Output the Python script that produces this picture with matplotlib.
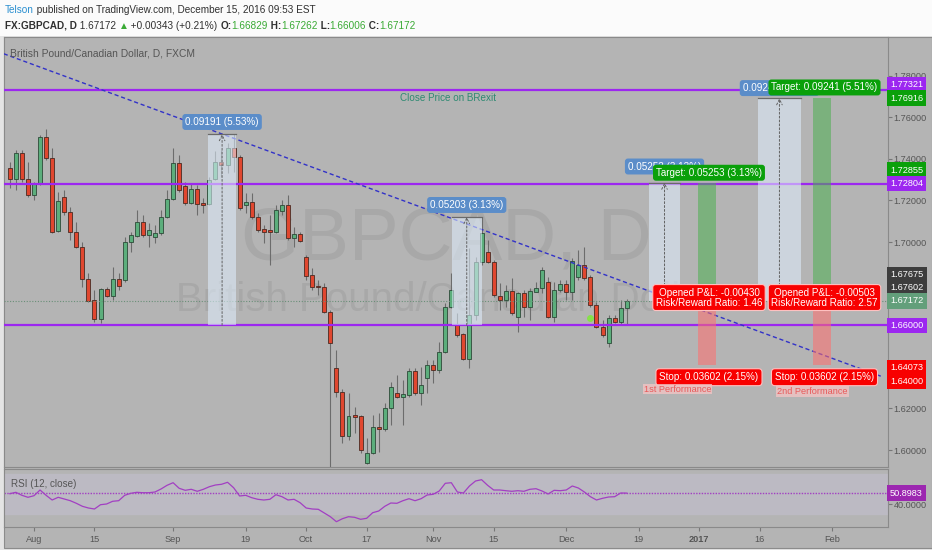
import matplotlib
matplotlib.use("Agg")
import numpy as np
import pandas as pd
import matplotlib.pyplot as plt
from matplotlib import font_manager
from matplotlib.patches import Rectangle

# ---- fonts: the screenshot text is narrow, use a narrow face if there is one
names = {f.name for f in font_manager.fontManager.ttflist}
NARROW = 'Liberation Sans Narrow' in names
FONT = 'Liberation Sans Narrow' if NARROW else 'Liberation Sans'
FS = 1.0 if NARROW else 0.84   # shrink plain Liberation Sans to keep the widths
plt.rcParams['font.family'] = [FONT, 'DejaVu Sans']

# ---- daily candles GBPCAD, 26 Jul 2016 .. 15 Dec 2016
opens = [1.7355, 1.7303, 1.7430, 1.7303, 1.7226, 1.7279, 1.7504, 1.7403, 1.7053, 1.7218,
         1.7143, 1.7050, 1.6974, 1.6822, 1.6721, 1.6630, 1.6772, 1.6742, 1.6821, 1.6817,
         1.6998, 1.7030, 1.7095, 1.7034, 1.7023, 1.7042, 1.7122, 1.7205, 1.7379, 1.7269,
         1.7189, 1.7253, 1.7186, 1.7183, 1.7303, 1.7383, 1.7370, 1.7454, 1.7407, 1.7176,
         1.7194, 1.7119, 1.7061, 1.7058, 1.7047, 1.7149, 1.7178, 1.7018, 1.7037, 1.6926,
         1.6841, 1.6788, 1.6785, 1.6662, 1.6392, 1.6277, 1.6067, 1.6166, 1.6163, 1.5936,
         1.5987, 1.6112, 1.6099, 1.6200, 1.6272, 1.6253, 1.6264, 1.6381, 1.6272, 1.6344,
         1.6408, 1.6384, 1.6469, 1.6686, 1.6601, 1.6558, 1.6436, 1.6649, 1.6905, 1.6953,
         1.6905, 1.6742, 1.6721, 1.6766, 1.6638, 1.6753, 1.6689, 1.6761, 1.6777, 1.6809,
         1.6641, 1.6769, 1.6798, 1.6761, 1.6830, 1.6889, 1.6830, 1.6697, 1.6593, 1.6513,
         1.6633, 1.6617, 1.66829]
highs = [1.7386, 1.7443, 1.7443, 1.7386, 1.7290, 1.7515, 1.7542, 1.7451, 1.7242, 1.7250,
         1.7170, 1.7098, 1.7002, 1.6852, 1.6769, 1.6777, 1.6785, 1.6881, 1.6852, 1.7025,
         1.7050, 1.7154, 1.7130, 1.7090, 1.7082, 1.7154, 1.7250, 1.7451, 1.7418, 1.7290,
         1.7282, 1.7274, 1.7210, 1.7314, 1.7439, 1.7443, 1.7475, 1.7519, 1.7418, 1.7237,
         1.7234, 1.7141, 1.7082, 1.7130, 1.7178, 1.7202, 1.7226, 1.7074, 1.7050, 1.6937,
         1.6873, 1.6817, 1.6801, 1.6673, 1.6480, 1.6291, 1.6272, 1.6208, 1.6166, 1.6056,
         1.6166, 1.6176, 1.6224, 1.6328, 1.6360, 1.6336, 1.6392, 1.6392, 1.6400, 1.6432,
         1.6432, 1.6520, 1.6708, 1.6849, 1.6657, 1.6563, 1.6970, 1.6929, 1.7120, 1.7010,
         1.6913, 1.6801, 1.6793, 1.6825, 1.6761, 1.6769, 1.6777, 1.6809, 1.6881, 1.6833,
         1.6809, 1.6817, 1.6817, 1.6922, 1.6962, 1.6977, 1.6841, 1.6713, 1.6625, 1.6649,
         1.6649, 1.6721, 1.67262]
lows = [1.7258, 1.7250, 1.7290, 1.7218, 1.7202, 1.7274, 1.7394, 1.7042, 1.7050, 1.7130,
        1.7010, 1.6970, 1.6785, 1.6713, 1.6617, 1.6609, 1.6737, 1.6721, 1.6769, 1.6809,
        1.6953, 1.7023, 1.7025, 1.6977, 1.6994, 1.7034, 1.7114, 1.7202, 1.7242, 1.7178,
        1.7183, 1.7130, 1.7138, 1.7178, 1.7298, 1.7314, 1.7330, 1.7338, 1.7154, 1.7138,
        1.7109, 1.7050, 1.6994, 1.6889, 1.7042, 1.7130, 1.7010, 1.6977, 1.7002, 1.6817,
        1.6769, 1.6745, 1.6657, 1.5750, 1.6256, 1.6032, 1.6048, 1.6080, 1.5984, 1.5932,
        1.5980, 1.5991, 1.6092, 1.6120, 1.6248, 1.6120, 1.6256, 1.6264, 1.6216, 1.6272,
        1.6320, 1.6368, 1.6465, 1.6681, 1.6545, 1.6432, 1.6392, 1.6625, 1.6889, 1.6898,
        1.6737, 1.6673, 1.6689, 1.6649, 1.6569, 1.6641, 1.6625, 1.6761, 1.6753, 1.6633,
        1.6617, 1.6761, 1.6721, 1.6721, 1.6817, 1.6817, 1.6689, 1.6585, 1.6545, 1.6497,
        1.6609, 1.6601, 1.66006]
closes = [1.7303, 1.7430, 1.7303, 1.7226, 1.7279, 1.7504, 1.7403, 1.7050, 1.7199, 1.7143,
          1.7050, 1.6974, 1.6822, 1.6716, 1.6630, 1.6772, 1.6742, 1.6821, 1.6790, 1.6998,
          1.7034, 1.7095, 1.7034, 1.7058, 1.7042, 1.7122, 1.7205, 1.7379, 1.7250, 1.7189,
          1.7253, 1.7181, 1.7179, 1.7298, 1.7383, 1.7370, 1.7454, 1.7407, 1.7162, 1.7194,
          1.7119, 1.7058, 1.7047, 1.7047, 1.7154, 1.7178, 1.7018, 1.7037, 1.7005, 1.6838,
          1.6782, 1.6782, 1.6662, 1.6516, 1.6277, 1.6067, 1.6163, 1.6160, 1.6000, 1.5987,
          1.6109, 1.6099, 1.6203, 1.6304, 1.6253, 1.6267, 1.6381, 1.6272, 1.6312, 1.6408,
          1.6384, 1.6469, 1.6686, 1.6769, 1.6553, 1.6436, 1.6649, 1.6905, 1.7042, 1.6905,
          1.6745, 1.6721, 1.6766, 1.6657, 1.6753, 1.6689, 1.6766, 1.6777, 1.6865, 1.6641,
          1.6769, 1.6798, 1.6761, 1.6909, 1.6889, 1.6825, 1.6697, 1.6593, 1.6553, 1.6633,
          1.6617, 1.6681, 1.67172]

# RSI(12, close) for the same days
rsi = [50.3, 51.7, 48.7, 46.7, 48.3, 54.0, 48.7, 44.0, 46.7, 45.0,
       43.3, 40.7, 37.7, 36.0, 35.0, 39.3, 40.0, 42.7, 43.3, 48.7,
       50.7, 51.7, 51.3, 51.3, 52.0, 55.0, 58.7, 61.3, 55.7, 53.7,
       54.7, 52.7, 54.7, 57.3, 59.0, 59.7, 61.7, 56.3, 48.0, 48.7,
       46.3, 44.7, 44.0, 44.7, 49.3, 47.3, 44.0, 44.7, 41.3, 36.0,
       35.0, 34.7, 31.0, 27.3, 22.3, 25.3, 27.3, 26.7, 24.7, 25.7,
       31.3, 33.0, 37.7, 41.0, 40.7, 43.3, 45.3, 43.3, 45.3, 49.0,
       49.7, 53.0, 60.7, 61.3, 52.0, 51.0, 58.0, 63.0, 64.3, 58.7,
       54.0, 54.0, 53.3, 52.7, 53.3, 52.7, 54.7, 55.3, 53.0, 50.0,
       53.7, 53.3, 54.0, 58.0, 56.0, 52.0, 47.3, 44.0, 45.7, 47.0,
       47.3, 51.0, 50.8983]

tick_dates = ['2016-08-01', '2016-08-15', '2016-09-01', '2016-09-19', '2016-10-03',
              '2016-10-17', '2016-11-01', '2016-11-15', '2016-12-01', '2016-12-19',
              '2017-01-02', '2017-01-16', '2017-02-01']
tick_labels = ['Aug', '15', 'Sep', '19', 'Oct', '17', 'Nov', '15', 'Dec', '19',
               '2017', '16', 'Feb']

# horizontal levels drawn on the chart
levels = [1.77321, 1.72804, 1.66000]
last_price = 1.67172
trend_pts = [('2016-07-25', 1.7905), ('2017-02-13', 1.6355)]

# measure tool boxes
measure_lo = [1.66, 1.66]
measure_hi = [1.7519, 1.7120]
measure_txt = ['0.09191 (5.53%)', '0.05203 (3.13%)']

# long position tools
pos_target = [1.72855, 1.76916]
pos_entry = [1.67602, 1.67602]
pos_stop = [1.64073, 1.64073]
pos_blue_txt = ['0.05253 (3.13%)', '0.09241 (5.51%)']
pos_target_txt = ['Target: 0.05253 (3.13%)', 'Target: 0.09241 (5.51%)']
pos_pnl_txt = ['Opened P&L: -0.00430\nRisk/Reward Ratio: 1.46',
               'Opened P&L: -0.00503\nRisk/Reward Ratio: 2.57']
pos_stop_txt = ['Stop: 0.03602 (2.15%)', 'Stop: 0.03602 (2.15%)']
perf_txt = ['1st Performance', '2nd Performance']

# ---- bar index positions (business days, Aug 1 = 0)
all_days = pd.bdate_range('2016-07-25', '2017-02-28')
days = pd.bdate_range('2016-07-26', '2016-12-15')
x0 = all_days.get_loc(pd.Timestamp('2016-08-01'))
def xpos(d):
    return all_days.get_loc(pd.Timestamp(d)) - x0
xs = np.array([xpos(d) for d in days])
tick_pos = [xpos(d) for d in tick_dates]

W, H = 932, 550
BG = '#b4b4b4'
PURPLE = '#9c27f0'
GREEN_LBL = '#0aa00a'
RED_LBL = '#f80000'
TXT = '#555555'

fig = plt.figure(figsize=(W / 100, H / 100), dpi=100)
fig.patch.set_facecolor('#e4e4e4')
fig.patches.append(Rectangle((0, 1 - 36 / H), 1, 36 / H, transform=fig.transFigure,
                             fc='#fbfbfb', ec='none', zorder=-10))
fig.patches.append(Rectangle((4 / W, 1 - 548 / H), 928 / W, 511 / H, transform=fig.transFigure,
                             fc=BG, ec='#8c8c8c', lw=0.8, zorder=-10))

ax = fig.add_axes([4 / W, 1 - 467 / H, 884 / W, 430 / H])
rax = fig.add_axes([4 / W, 1 - 527 / H, 884 / W, 58 / H], sharex=ax)
for a in (ax, rax):
    a.set_facecolor(BG)
    for s in a.spines.values():
        s.set_color('#8a8a8a')
        s.set_linewidth(0.8)

ax.set_xlim(-4.96, 141.2)
ax.set_ylim(1.59183, 1.79856)

# watermark
ax.text(0.5, 0.528, 'GBPCAD, D', transform=ax.transAxes, ha='center', va='center',
        fontsize=64 * FS, color='#a8a8a8', zorder=0)
ax.text(0.5, 0.388, 'British Pound/Canadian Dollar', transform=ax.transAxes, ha='center',
        va='center', fontsize=29, color='#a8a8a8', zorder=0)

# candles
o = np.array(opens); c = np.array(closes); h = np.array(highs); l = np.array(lows)
up = c >= o
ax.vlines(xs, l, h, color='#6c6c6c', lw=0.8, zorder=2)
body_lo = np.minimum(o, c)
body_h = np.maximum(np.abs(c - o), 0.0004)
ax.bar(xs[up], body_h[up], bottom=body_lo[up], width=0.66, color='#5cae7c',
       edgecolor='#2d4a38', lw=0.6, zorder=3)
ax.bar(xs[~up], body_h[~up], bottom=body_lo[~up], width=0.66, color='#e0472f',
       edgecolor='#4a2a22', lw=0.6, zorder=3)

# horizontal levels, last price, trend line
for lv in levels:
    ax.axhline(lv, color=PURPLE, lw=1.6, zorder=4)
ax.axhline(last_price, color='#6a8f78', lw=0.8, ls=(0, (1, 1.5)), zorder=4)
tx = [xpos(d) for d, _ in trend_pts]
ty = [p for _, p in trend_pts]
ax.plot(tx, ty, color='#3232c8', lw=1.0, ls=(0, (3, 2)), zorder=5)
ax.text(68.4, 1.7693, 'Close Price on BRexit', color='#2f8a72', fontsize=8.5 * FS,
        ha='center', va='center', zorder=6)
ax.plot([92], [1.6633], 'o', color='#86e04a', ms=5, mec='none', zorder=6)

def blue_label(x, y, s):
    ax.text(x, y, s, ha='center', va='center', color='white', fontsize=8.5 * FS, zorder=9,
            bbox=dict(boxstyle='round,pad=0.3', fc='#5b8dc9', ec='none'))

def vert_arrow(x, y0, y1):
    ax.annotate('', xy=(x, y1), xytext=(x, y0), zorder=8,
                arrowprops=dict(arrowstyle='->', color='#606060', lw=0.7,
                                ls=(0, (2, 2)), shrinkA=0, shrinkB=0))

# measure boxes
measure_x = [(28.8, 33.4), (69.1, 74.0)]
for (xa, xb), lo, hi, s in zip(measure_x, measure_lo, measure_hi, measure_txt):
    ax.add_patch(Rectangle((xa, lo), xb - xa, hi - lo, fc='#e1f0ff', ec='none',
                           alpha=0.55, zorder=7))
    ax.plot([xa, xb], [hi, hi], color='#6a6a6a', lw=0.9, zorder=8)
    vert_arrow((xa + xb) / 2, lo, hi)
    blue_label((xa + xb) / 2, hi + 0.0058, s)

# long positions
blue_x = [(101.7, 106.8), (119.7, 126.8)]
zone_x = [(109.8, 112.7), (128.8, 131.7)]
lbl_x = [111.6, 130.7]
perf_xy = [(106.4, 1.6293), (128.7, 1.6280)]
blue_y = [1.7363, 1.7740]
target_y = [1.7333, 1.7743]
for i in range(2):
    xa, xb = blue_x[i]
    ax.add_patch(Rectangle((xa, last_price), xb - xa, pos_target[i] - last_price,
                           fc='#e1f0ff', ec='none', alpha=0.55, zorder=7))
    ax.plot([xa, xb], [pos_target[i]] * 2, color='#6a6a6a', lw=0.9, zorder=8)
    vert_arrow((xa + xb) / 2, last_price, pos_target[i])
    za, zb = zone_x[i]
    ax.add_patch(Rectangle((za, pos_entry[i]), zb - za, pos_target[i] - pos_entry[i],
                           fc='#4caf50', ec='none', alpha=0.55, zorder=7))
    ax.add_patch(Rectangle((za, pos_stop[i]), zb - za, pos_entry[i] - pos_stop[i],
                           fc='#ff6e6e', ec='none', alpha=0.55, zorder=7))
    blue_label((xa + xb) / 2, blue_y[i], pos_blue_txt[i])
    ax.text(lbl_x[i], target_y[i], pos_target_txt[i], ha='center', va='center',
            color='white', fontsize=8.5 * FS, zorder=10,
            bbox=dict(boxstyle='round,pad=0.3', fc=GREEN_LBL, ec='none'))
    ax.text(lbl_x[i], 1.6733, pos_pnl_txt[i], ha='center', va='center', color='white',
            fontsize=8.5 * FS, linespacing=1.0, zorder=10,
            bbox=dict(boxstyle='round,pad=0.3', fc=RED_LBL, ec='#ffc0c0', lw=0.8))
    ax.text(lbl_x[i], 1.6350, pos_stop_txt[i], ha='center', va='center', color='white',
            fontsize=8.5 * FS, zorder=10,
            bbox=dict(boxstyle='round,pad=0.35', fc=RED_LBL, ec='#ffc0c0', lw=0.8))
    ax.text(perf_xy[i][0], perf_xy[i][1], perf_txt[i], ha='center', va='center',
            color='#e85a5a', fontsize=7.8 * FS, zorder=10,
            bbox=dict(boxstyle='square,pad=0.1', fc='#f2c4c4', ec='none', alpha=0.8))

ax.text(0.007, 0.962, 'British Pound/Canadian Dollar, D, FXCM', transform=ax.transAxes,
        color=TXT, fontsize=8.8 * FS, ha='left', va='center', zorder=11)

# price scale
ax.yaxis.tick_right()
ax.set_yticks([1.60, 1.62, 1.70, 1.72, 1.74, 1.76, 1.78])
ax.set_yticklabels(['%.5f' % v for v in ax.get_yticks()])
ax.tick_params(axis='y', colors='#777777', labelcolor=TXT, labelsize=7.8 * FS, length=3, pad=1)
ax.tick_params(axis='x', bottom=False, labelbottom=False)

price_labels = [('1.77321', 1.77321, PURPLE, -5), ('1.76916', 1.76916, GREEN_LBL, 0),
                ('1.72855', 1.72855, GREEN_LBL, -12.5), ('1.72804', 1.72804, PURPLE, 0),
                ('1.67675', 1.67675, '#3d3d3d', -16), ('1.67602', 1.67602, '#3d3d3d', -4),
                ('1.67172', 1.67172, '#639f7b', 0), ('1.66000', 1.66000, PURPLE, 0),
                ('1.64073', 1.64073, RED_LBL, 2.5), ('1.64000', 1.64000, RED_LBL, 15)]
for s, p, col, shift in price_labels:
    ax.annotate(s, xy=(1, p), xycoords=ax.get_yaxis_transform(), xytext=(1.5, -shift * 0.72),
                textcoords='offset points', ha='left', va='center', color='white',
                fontsize=7.8 * FS, annotation_clip=False, zorder=12,
                bbox=dict(boxstyle='square,pad=0.35', fc=col, ec='none'))

# RSI pane
rax.set_ylim(17, 75)
rax.axhspan(30, 70, color='#bcbac3', zorder=0)
rax.plot(xs, rsi, color='#a23fc2', lw=0.9, zorder=3)
rax.axhline(rsi[-1], color='#a23fc2', lw=1.0, ls=(0, (1, 1)), zorder=2)
rax.text(0.008, 0.74, 'RSI (12, close)', transform=rax.transAxes, color=TXT,
         fontsize=8.5 * FS, ha='left', va='center')
rax.yaxis.tick_right()
rax.set_yticks([40])
rax.set_yticklabels(['40.0000'])
rax.tick_params(axis='y', colors='#777777', labelcolor=TXT, labelsize=7.8 * FS, length=3, pad=1)
rax.annotate('%.4f' % rsi[-1], xy=(1, rsi[-1]), xycoords=rax.get_yaxis_transform(),
             xytext=(1.5, 0), textcoords='offset points', ha='left', va='center',
             color='white', fontsize=7.8 * FS, annotation_clip=False, zorder=12,
             bbox=dict(boxstyle='square,pad=0.35', fc='#9c27b0', ec='none'))
rax.set_xticks(tick_pos)
rax.set_xticklabels(tick_labels)
rax.tick_params(axis='x', colors='#777777', labelcolor=TXT, labelsize=7.8 * FS, length=3, pad=3)
for t in rax.get_xticklabels():
    if t.get_text() == '2017':
        t.set_fontweight('bold')

# header
renderer = fig.canvas.get_renderer()
def header_line(y_px, pieces):
    x = 5
    for s, col, wt in pieces:
        t = fig.text(x / W, 1 - y_px / H, s, color=col, fontweight=wt, fontsize=8.6 * FS,
                     ha='left', va='center')
        x += t.get_window_extent(renderer=renderer).width

DK = '#303030'
GR = '#3aaa35'
header_line(10, [('Telson', '#2a8fd0', 'normal'),
                 (' published on TradingView.com, December 15, 2016 09:53 EST', DK, 'normal')])
header_line(26, [('FX:GBPCAD, D', DK, 'bold'), (' 1.67172 ', DK, 'normal'), ('\u25b2', GR, 'normal'),
                 (' +0.00343 (+0.21%) ', DK, 'normal'), ('O:', DK, 'bold'), ('1.66829', GR, 'normal'),
                 (' H:', DK, 'bold'), ('1.67262', GR, 'normal'), (' L:', DK, 'bold'),
                 ('1.66006', GR, 'normal'), (' C:', DK, 'bold'), ('1.67172', GR, 'normal')])

fig.savefig('out.png', dpi=100, facecolor=fig.get_facecolor())
